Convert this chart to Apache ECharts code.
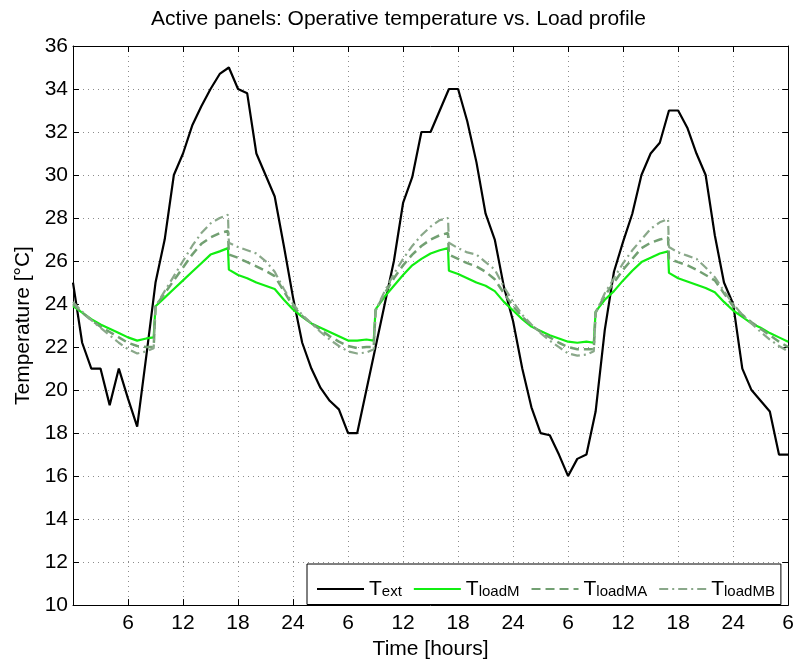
<!DOCTYPE html>
<html>
<head>
<meta charset="utf-8">
<script src="https://cdn.jsdelivr.net/npm/echarts@6/dist/echarts.min.js"></script>
<style>html,body{margin:0;padding:0;background:#fff}#c{width:797px;height:665px}</style>
</head>
<body>
<div id="c"></div>
<script>
// ---- data ----
var extHours = [];
for (var h = 0; h <= 78; h++) extHours.push(h);
var tExt = [
  25.0,22.2,21.0,21.0,19.3,21.0,19.6,18.3,21.6,25.0,
  27.0,30.0,31.0,32.3,33.2,34.0,34.7,35.0,34.0,33.8,
  31.0,30.0,29.0,26.7,24.3,22.2,21.0,20.1,19.5,19.1,
  18.0,18.0,20.0,22.0,24.0,26.0,28.7,29.9,32.0,32.0,
  33.0,34.0,34.0,32.5,30.6,28.2,27.0,24.8,23.2,21.0,
  19.2,18.0,17.9,17.0,16.0,16.8,17.0,19.0,22.8,25.5,
  26.9,28.2,30.0,31.0,31.5,33.0,33.0,32.2,31.0,30.0,
  27.2,25.0,24.0,21.0,20.0,19.5,19.0,17.0,17.0
];
var loadTimes = [
  0,1,2,3,4,5,6,7,8, 8.8,
  9,10,11,12,13,14,15,16, 16.9,
  17,18,19,20,21,22,23,24,25,26,27,28,29,30,31,32, 32.8,
  33,34,35,36,37,38,39,40, 40.9,
  41,42,43,44,45,46,47,48,49,50,51,52,53,54,55,56, 56.8,
  57,58,59,60,61,62,63,64, 64.9,
  65,66,67,68,69,70,71,72,73,74,75,76,77,78
];
var tLoadM = [
  23.9,23.6,23.3,23.05,22.85,22.65,22.45,22.3,22.4, 22.45,
  23.9,24.3,24.7,25.1,25.5,25.9,26.3,26.45, 26.6,
  25.6,25.35,25.2,25.0,24.85,24.7,24.2,23.75,23.4,23.1,22.9,22.7,22.5,22.3,22.3,22.35, 22.3,
  23.75,24.35,24.85,25.35,25.8,26.1,26.35,26.5, 26.6,
  25.55,25.4,25.2,25.0,24.85,24.6,24.1,23.7,23.3,22.95,22.75,22.55,22.4,22.25,22.2,22.25, 22.2,
  23.65,24.2,24.6,25.1,25.55,25.95,26.15,26.35, 26.45,
  25.45,25.2,25.05,24.9,24.75,24.55,24.1,23.7,23.4,23.1,22.9,22.65,22.45,22.25
];
var tLoadMA = [
  24.0,23.6,23.25,22.95,22.7,22.45,22.2,22.05,22.0, 22.0,
  23.9,24.5,25.1,25.7,26.3,26.8,27.1,27.3, 27.4,
  26.3,26.15,25.95,25.75,25.55,25.3,24.6,23.9,23.45,23.1,22.8,22.5,22.25,22.05,21.95,22.0, 22.0,
  23.7,24.5,25.2,25.8,26.3,26.7,27.0,27.2, 27.3,
  26.3,26.1,25.9,25.75,25.5,25.15,24.5,23.9,23.4,23.0,22.7,22.45,22.2,22.0,21.9,21.9, 21.9,
  23.6,24.4,25.0,25.6,26.1,26.6,26.85,27.0, 27.1,
  26.1,25.95,25.8,25.6,25.35,25.1,24.5,23.9,23.5,23.15,22.85,22.55,22.25,22.0
];
var tLoadMB = [
  24.1,23.65,23.25,22.9,22.55,22.2,21.9,21.7,21.8, 21.95,
  23.9,24.6,25.3,26.0,26.7,27.3,27.75,28.0, 28.15,
  26.85,26.65,26.5,26.35,26.0,25.5,24.7,24.0,23.5,23.1,22.7,22.35,22.05,21.8,21.7,21.75, 21.9,
  23.7,24.6,25.4,26.1,26.7,27.2,27.6,27.9, 28.0,
  26.85,26.6,26.4,26.3,25.95,25.6,24.8,24.1,23.5,23.05,22.65,22.3,22.0,21.7,21.6,21.65, 21.8,
  23.6,24.5,25.2,25.9,26.5,27.0,27.5,27.8, 27.95,
  26.65,26.4,26.25,26.1,25.7,25.25,24.6,24.0,23.5,23.1,22.7,22.35,22.05,21.8
];
var seriesNames = ['T_ext','T_loadM','T_loadMA','T_loadMB'];
var legendSub = {'T_ext':'ext','T_loadM':'loadM','T_loadMA':'loadMA','T_loadMB':'loadMB'};
var titleText = 'Active panels: Operative temperature vs. Load profile';
var xName = 'Time [hours]';
var yName = 'Temperature [°C]';

function pairs(xs, ys){ return xs.map(function(x,i){ return [x, ys[i]]; }); }

var FONT = '"Liberation Sans", Arial, sans-serif';
var chart = echarts.init(document.getElementById('c'), null, {renderer:'canvas'});
var gridLine = {show:true, lineStyle:{type:[1,4], color:'#8c8c8c', width:1}};
var option = {
  animation:false,
  backgroundColor:'#fff',
  textStyle:{fontFamily:FONT},
  title:{text:titleText, left:'center', top:4,
    textStyle:{fontFamily:FONT, fontSize:21, fontWeight:'normal', color:'#000'}},
  grid:{left:73, right:7, top:46, bottom:53},
  legend:{
    left:307, top:564, orient:'horizontal',
    backgroundColor:'#fff', borderColor:'#000', borderWidth:1, borderRadius:0,
    padding:[5,6,5,9], itemGap:11, itemWidth:47, itemHeight:14,
    itemStyle:{opacity:0},
    data:seriesNames,
    formatter:function(n){ return '{T|T}{s|' + legendSub[n] + '}'; },
    textStyle:{fontFamily:FONT, color:'#000',
      rich:{
        T:{fontFamily:FONT, fontSize:21, lineHeight:21, verticalAlign:'top', color:'#000'},
        s:{fontFamily:FONT, fontSize:15, lineHeight:15, padding:[15.5,0,0,0], verticalAlign:'bottom', color:'#000'}
      }}
  },
  xAxis:[{
    type:'value', min:0, max:78, interval:6,
    name:xName, nameLocation:'middle', nameGap:30,
    nameTextStyle:{fontFamily:FONT, fontSize:21, color:'#000'},
    axisLine:{show:true, onZero:false, lineStyle:{color:'#000', width:1}},
    axisTick:{show:true, inside:true, length:6, lineStyle:{color:'#000'}},
    axisLabel:{fontFamily:FONT, fontSize:21, color:'#000', margin:8,
      formatter:function(v){ if (v===0) return ''; var m = v % 24; return m===0 ? '24' : String(m); }},
    splitLine:gridLine
  },{
    type:'value', min:0, max:78, interval:6, position:'top',
    axisLine:{show:true, onZero:false, lineStyle:{color:'#000', width:1}},
    axisTick:{show:true, inside:true, length:6, lineStyle:{color:'#000'}},
    axisLabel:{show:false}, splitLine:{show:false}
  }],
  yAxis:[{
    type:'value', min:10, max:36, interval:2,
    name:yName, nameLocation:'middle', nameGap:36,
    nameTextStyle:{fontFamily:FONT, fontSize:21, color:'#000'},
    axisLine:{show:true, onZero:false, lineStyle:{color:'#000', width:1}},
    axisTick:{show:true, inside:true, length:6, lineStyle:{color:'#000'}},
    axisLabel:{fontFamily:FONT, fontSize:21, color:'#000', margin:5},
    splitLine:gridLine
  },{
    type:'value', min:10, max:36, interval:2, position:'right',
    axisLine:{show:true, onZero:false, lineStyle:{color:'#000', width:1}},
    axisTick:{show:true, inside:true, length:6, lineStyle:{color:'#000'}},
    axisLabel:{show:false}, splitLine:{show:false}
  }],
  series:[
    {name:'T_ext', type:'line', data:pairs(extHours, tExt), symbol:'none', color:'#000',
      lineStyle:{color:'#000', width:2.2}},
    {name:'T_loadM', type:'line', data:pairs(loadTimes, tLoadM), symbol:'none', color:'#11ee11',
      lineStyle:{color:'#11ee11', width:2.2}},
    {name:'T_loadMA', type:'line', data:pairs(loadTimes, tLoadMA), symbol:'none', color:'#72a072',
      lineStyle:{color:'#72a072', width:2.5, type:[9,5]}},
    {name:'T_loadMB', type:'line', data:pairs(loadTimes, tLoadMB), symbol:'none', color:'#8aa88a',
      lineStyle:{color:'#8aa88a', width:2.2, type:[9,4,2,4]}}
  ]
};
chart.setOption(option);
</script>
</body>
</html>
